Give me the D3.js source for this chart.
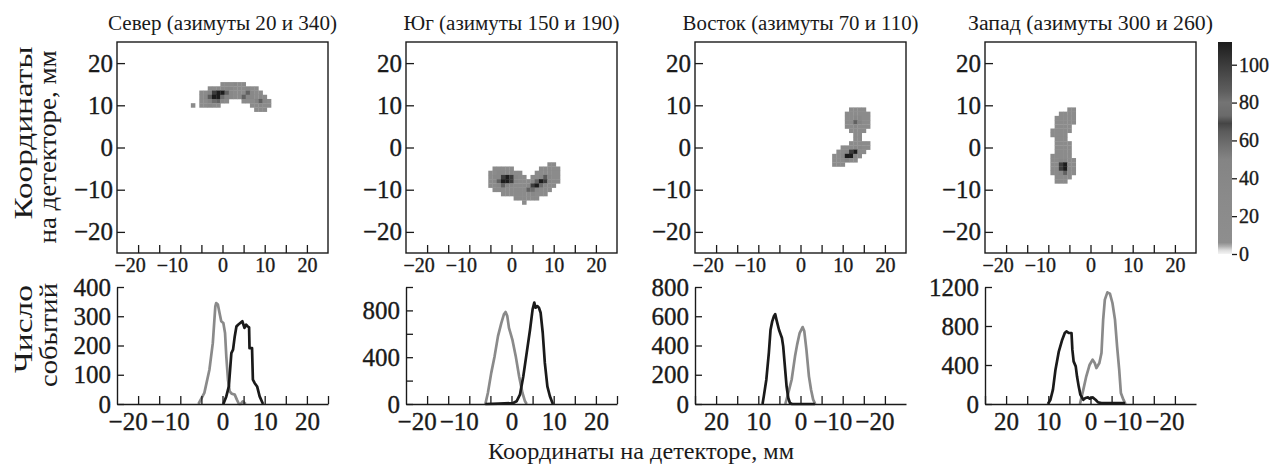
<!DOCTYPE html>
<html><head><meta charset="utf-8">
<script src="https://cdn.jsdelivr.net/npm/d3@7/dist/d3.min.js"></script>
<style>
body{margin:0;background:#fff;}
text{font-family:"Liberation Serif","Times New Roman",serif;fill:#1a1a1a;}
</style></head>
<body><svg id="c" width="1274" height="465"></svg>
<script>
// ---------------- DATA ----------------
const titles = ["Север (азимуты 20 и 340)", "Юг (азимуты 150 и 190)", "Восток (азимуты 70 и 110)", "Запад (азимуты 300 и 260)"];
const titleWidths = [229, 216, 236, 245];
const yLabelTop = ["Координаты", "на детекторе, мм"];
const yLabelBottom = ["Число", "событий"];
const xLabelBottom = "Координаты на детекторе, мм";

// 2D maps: one character per 1 mm cell, '.' = empty, digit d = d*12.5 counts
const northX0 = -7, northYTop = 15;
const northRows = [
  ".......222322......",
  "....223333222322...",
  "..224899532225322..",
  "..2379964322533232.",
  "..2246532...2224532",
  "2.22322.......22322",
  "...............222."
];
const southX0 = -5, southYTop = -4;
const southRows = [
  "..............22..",
  ".22222......22222.",
  "22333322...222222.",
  "233898322.2237322.",
  "23599832223598322.",
  "2235432223896322..",
  ".22222222563222...",
  "...22222223222....",
  "......222222......",
  "........2........."
];
const eastX0 = 7, eastYTop = 9;
const eastRows = [
  ".....2222..",
  "....222222.",
  "....223322.",
  "....225422.",
  "....223222.",
  ".....2222..",
  "......22...",
  "......22...",
  ".....22222.",
  "...2223322.",
  "..2238922..",
  ".2239932...",
  ".222422....",
  ".222......."
];
const westX0 = -9, westYTop = 9;
const westRows = [
  "....22",
  "..2222",
  ".22222",
  ".22222",
  ".2222.",
  "22222.",
  "2222..",
  ".222..",
  ".2222.",
  ".2222.",
  ".2222.",
  "22222.",
  "223322",
  "228922",
  "228922",
  "223522",
  ".2222.",
  ".222.."
];

const colorbarTicks = [0, 20, 40, 60, 80, 100];
const colorbarMax = 112;
const colorStopValues = [0, 2, 4, 6, 30, 50, 58, 65, 69, 73, 80, 86, 92, 100, 112];
const colorStopColors = ["#f4f4f4", "#dddddd", "#b0b0b0", "#8e8e8e", "#8a8a8a", "#848484", "#6e6e6e", "#5a5a5a", "#454545", "#6a6a6a", "#747474", "#5e5e5e", "#505050", "#3c3c3c", "#1c1c1c"];

const topTicks = [-20, -15, -10, -5, 0, 5, 10, 15, 20];
const topYTicks = [-20, -10, 0, 10, 20];
const bottomXTicks = [-20, -15, -10, -5, 0, 5, 10, 15, 20, 25];

// profiles: [coordinate mm, events]
const northGray = [[-5.7,0],[-4.3,38],[-3.1,117],[-2.3,208],[-1.7,334],[-1.5,345],[-1.1,340],[-0.7,311],[-0.3,283],[0.2,277],[0.6,243],[0.9,163],[1.3,83],[1.7,43],[2.2,35],[2.9,32],[3.4,15],[3.9,0],[4.3,0],[4.8,9],[5.5,0]];
const northBlack = [[0.2,0],[0.9,26],[1.5,60],[2.1,174],[2.5,186],[2.9,231],[3.3,265],[3.7,271],[4.2,277],[4.7,283],[5.2,260],[5.6,271],[6.0,265],[6.3,262],[6.4,191],[7.0,191],[7.2,83],[7.6,72],[8.2,60],[8.8,26],[9.6,0]];
const southGray = [[-6.2,0],[-5.6,94],[-4.8,266],[-4.0,409],[-3.2,580],[-2.4,694],[-1.8,766],[-1.4,786],[-1.0,751],[-0.6,651],[0.2,551],[1.0,409],[1.8,237],[2.6,94],[3.2,23],[3.6,0]];
const southBlack = [[-6.2,0],[-3.0,3],[0.4,8],[1.2,23],[2.0,80],[2.8,237],[3.6,437],[4.4,637],[5.0,809],[5.4,866],[5.7,823],[6.1,837],[6.5,823],[6.9,780],[7.4,609],[7.9,351],[8.5,151],[9.1,66],[9.8,0]];
const eastBlack = [[9.0,0],[8.7,52],[8.1,166],[7.5,349],[7.1,508],[6.7,565],[6.3,600],[6.0,615],[5.7,577],[5.1,508],[4.4,451],[4.1,394],[3.7,258],[3.3,121],[2.9,41],[2.5,7],[2.0,0],[-3.4,0]];
const eastGray = [[3.6,0],[2.9,75],[2.1,166],[1.3,326],[0.8,406],[0.2,485],[-0.5,526],[-0.9,497],[-1.4,372],[-2.0,189],[-2.5,98],[-3.0,30],[-3.5,0]];
const westBlack = [[10.1,0],[9.5,44],[8.9,147],[8.3,352],[7.5,540],[6.7,660],[6.1,728],[5.7,745],[5.1,728],[4.5,728],[4.3,557],[4.0,437],[3.5,386],[3.2,284],[2.8,181],[2.4,96],[1.7,44],[1.2,62],[0.6,68],[0.2,55],[-0.5,68],[-1.2,44],[-1.8,17],[-2.6,10],[-8.2,10]];
const westGray = [[2.5,0],[1.7,147],[1.0,284],[0.2,403],[-0.5,455],[-1.0,420],[-1.4,369],[-2.1,420],[-2.6,523],[-3.0,865],[-3.4,1070],[-4.0,1145],[-4.6,1132],[-5.2,1036],[-5.8,865],[-6.3,591],[-6.8,352],[-7.2,113],[-7.8,44],[-8.3,0]];

const profileMax = [400, 1000, 800, 1200];
const profileTicks = [[0,100,200,300,400],[0,200,400,600,800,1000],[0,200,400,600,800],[0,400,800,1200]];
const profileLabels = [[0,100,200,300,400],[0,400,800],[0,200,400,600,800],[0,400,800,1200]];
const reversedX = [false, false, true, true];

// ---------------- DRAW ----------------
const FONT = '"Liberation Serif","Times New Roman",serif';
const svg = d3.select("#c");
const grids = [
  {x0: northX0, yTop: northYTop, rows: northRows},
  {x0: southX0, yTop: southYTop, rows: southRows},
  {x0: eastX0, yTop: eastYTop, rows: eastRows},
  {x0: westX0, yTop: westYTop, rows: westRows}
];
const profiles = [[northGray, northBlack],[southGray, southBlack],[eastGray, eastBlack],[westGray, westBlack]];
const panelLeft = [117, 406, 695, 985];
const PW = 211;
const topY0 = 42, topY1 = 253;
const botY0 = 287, botY1 = 404;

const color = d3.scaleLinear().domain(colorStopValues).range(colorStopColors).clamp(true);
const fmt = d => d < 0 ? "\u2212" + Math.abs(d) : String(d);

function styleAxis(g, fontSize) {
  g.attr("font-size", null).attr("font-family", null);
  g.selectAll(".tick line").attr("stroke", "#1a1a1a").attr("stroke-width", 1.3);
  g.selectAll(".domain").attr("stroke", "#1a1a1a").attr("stroke-width", 1.4);
  g.selectAll("text").style("font-size", fontSize + "px").style("fill", "#1a1a1a")
    .style("font-family", FONT).style("stroke", "#1a1a1a").style("stroke-width", "0.35px");
}

panelLeft.forEach((L, p) => {
  // ----- top heat map -----
  const xs = d3.scaleLinear().domain([-25, 25]).range([L, L + PW]);
  const ys = d3.scaleLinear().domain([-25, 25]).range([topY1, topY0]);
  const gTop = svg.append("g");
  const cells = [];
  const gr = grids[p];
  gr.rows.forEach((row, r) => {
    for (let i = 0; i < row.length; i++) {
      const ch = row[i];
      if (ch === ".") continue;
      cells.push({x: gr.x0 + i, y: gr.yTop - r, v: (+ch) * 12.5});
    }
  });
  gTop.selectAll("rect.cell").data(cells).join("rect").attr("class", "cell")
    .attr("x", d => xs(d.x - 0.5)).attr("y", d => ys(d.y + 0.5))
    .attr("width", xs(0.5) - xs(-0.5) + 0.3).attr("height", ys(-0.5) - ys(0.5) + 0.3)
    .attr("fill", d => color(d.v));

  gTop.append("rect").attr("x", L).attr("y", topY0).attr("width", PW).attr("height", topY1 - topY0)
    .attr("fill", "none").attr("stroke", "#1a1a1a").attr("stroke-width", 1.4);

  const ax = gTop.append("g").attr("transform", `translate(0,${topY1})`)
    .call(d3.axisBottom(xs).tickValues(topTicks).tickSize(-8).tickSizeOuter(0).tickPadding(5)
      .tickFormat(d => d % 10 === 0 ? fmt(d) : ""));
  ax.select(".domain").remove();
  styleAxis(ax, 20);
  ax.selectAll("text").filter(d => d < 0).attr("dx", "-0.42em");

  const ay = gTop.append("g").attr("transform", `translate(${L},0)`)
    .call(d3.axisLeft(ys).tickValues(topYTicks).tickSize(-8).tickSizeOuter(0).tickPadding(4).tickFormat(fmt));
  ay.select(".domain").remove();
  styleAxis(ay, 25);

  svg.append("text").attr("x", L + PW / 2).attr("y", 30).attr("text-anchor", "middle")
    .style("font-size", "20px").attr("textLength", titleWidths[p]).attr("lengthAdjust", "spacingAndGlyphs")
    .text(titles[p]);

  // ----- bottom profile -----
  const bx = d3.scaleLinear().domain(reversedX[p] ? [25, -25] : [-25, 25]).range([L, L + PW]);
  const by = d3.scaleLinear().domain([0, profileMax[p]]).range([botY1, botY0]);
  const gB = svg.append("g");
  const lineGen = d3.line().x(d => bx(d[0])).y(d => by(d[1])).curve(d3.curveLinear);
  const [gray, black] = profiles[p];
  gB.append("path").datum(gray).attr("d", lineGen).attr("fill", "none")
    .attr("stroke", "#8a8a8a").attr("stroke-width", 2.7).attr("stroke-linejoin", "round");
  gB.append("path").datum(black).attr("d", lineGen).attr("fill", "none")
    .attr("stroke", "#1a1a1a").attr("stroke-width", 2.7).attr("stroke-linejoin", "round");

  const bxa = gB.append("g").attr("transform", `translate(0,${botY1})`)
    .call(d3.axisBottom(bx).tickValues(bottomXTicks).tickSize(-8).tickSizeOuter(0).tickPadding(8)
      .tickFormat(d => (d % 10 === 0 && Math.abs(d) <= 20) ? fmt(d) : ""));
  styleAxis(bxa, 25);
  bxa.selectAll("text").filter(d => d < 0).attr("dx", "-0.42em");

  const bya = gB.append("g").attr("transform", `translate(${L},0)`)
    .call(d3.axisLeft(by).tickValues(profileTicks[p]).tickSize(-7).tickSizeOuter(0).tickPadding(6)
      .tickFormat(d => profileLabels[p].includes(d) ? fmt(d) : ""));
  styleAxis(bya, 25);
});

// ----- color bar -----
const cbX = 1218, cbW = 14;
const cy = d3.scaleLinear().domain([0, colorbarMax]).range([254, 42]);
const grad = svg.append("defs").append("linearGradient").attr("id", "cbg")
  .attr("x1", 0).attr("x2", 0).attr("y1", 1).attr("y2", 0);
grad.selectAll("stop").data(colorStopValues).join("stop")
  .attr("offset", d => d / colorbarMax).attr("stop-color", d => color(d));
svg.append("rect").attr("x", cbX).attr("y", cy(colorbarMax)).attr("width", cbW)
  .attr("height", cy(0) - cy(colorbarMax)).attr("fill", "url(#cbg)");
const cba = svg.append("g").attr("transform", `translate(${cbX + cbW},0)`)
  .call(d3.axisRight(cy).tickValues(colorbarTicks).tickSize(5).tickSizeOuter(0).tickPadding(2).tickFormat(fmt));
cba.select(".domain").remove();
styleAxis(cba, 20);

// ----- axis titles -----
function vText(x, y, str, len) {
  svg.append("text").attr("transform", `translate(${x},${y}) rotate(-90)`).attr("text-anchor", "middle")
    .style("font-size", "26px").attr("textLength", len).attr("lengthAdjust", "spacingAndGlyphs").text(str);
}
vText(32, 133, yLabelTop[0], 173);
vText(56, 147, yLabelTop[1], 193);
vText(32, 329, yLabelBottom[0], 88);
vText(57, 335, yLabelBottom[1], 104);
svg.append("text").attr("x", 641).attr("y", 459).attr("text-anchor", "middle").style("font-size", "24px")
  .attr("textLength", 306).attr("lengthAdjust", "spacingAndGlyphs").text(xLabelBottom);
</script></body></html>
